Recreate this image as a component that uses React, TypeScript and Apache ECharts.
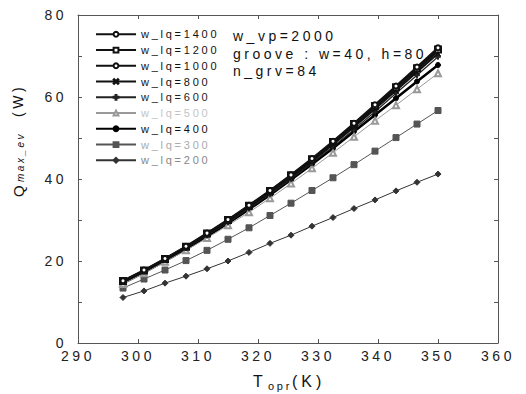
import React, { useEffect, useRef } from "react";
import * as echarts from "echarts";

const temperatures = [297.5, 301, 304.5, 308, 311.5, 315, 318.5, 322, 325.5, 329, 332.5, 336, 339.5, 343, 346.5, 350];
const q1400 = [15.2, 17.8, 20.6, 23.6, 26.8, 30.1, 33.6, 37.2, 41.0, 45.0, 49.2, 53.6, 58.1, 62.7, 67.3, 72.0];
const q1200 = [15.1, 17.7, 20.5, 23.5, 26.7, 30.0, 33.5, 37.1, 40.9, 44.8, 49.0, 53.4, 57.8, 62.4, 67.0, 71.6];
const q1000 = [15.0, 17.6, 20.4, 23.4, 26.6, 29.9, 33.3, 36.9, 40.7, 44.6, 48.8, 53.1, 57.5, 62.1, 66.6, 71.2];
const q800 = [14.9, 17.5, 20.3, 23.3, 26.4, 29.7, 33.1, 36.7, 40.4, 44.3, 48.4, 52.7, 57.1, 61.6, 66.1, 70.6];
const q600 = [14.8, 17.4, 20.2, 23.1, 26.2, 29.4, 32.8, 36.3, 40.0, 43.9, 47.9, 52.1, 56.4, 60.9, 65.3, 69.8];
const q500 = [14.4, 17.0, 19.8, 22.6, 25.6, 28.7, 31.9, 35.3, 38.9, 42.6, 46.4, 50.3, 54.2, 58.0, 61.9, 65.8];
const q400 = [14.6, 17.2, 20.0, 22.9, 26.0, 29.2, 32.6, 36.1, 39.8, 43.6, 47.5, 51.6, 55.6, 59.7, 63.8, 67.8];
const q300 = [13.4, 15.6, 17.8, 20.1, 22.6, 25.3, 28.1, 31.1, 34.1, 37.2, 40.3, 43.5, 46.8, 50.1, 53.4, 56.7];
const q200 = [11.1, 12.7, 14.6, 16.3, 18.1, 20.0, 22.1, 24.3, 26.3, 28.5, 30.6, 32.8, 34.9, 37.1, 39.2, 41.2];

const seriesNames = ["w_lq=1400", "w_lq=1200", "w_lq=1000", "w_lq=800", "w_lq=600", "w_lq=500", "w_lq=400", "w_lq=300", "w_lq=200"];
const seriesValues = [q1400, q1200, q1000, q800, q600, q500, q400, q300, q200];
const annotations = ["w_vp=2000", "groove : w=40, h=80", "n_grv=84"];

const PLUS = "path://M4,0h2v4h4v2h-4v4h-2v-4h-4v-2h4z";
const CROSS = "path://M0,1L1,0L5,4L9,0L10,1L6,5L10,9L9,10L5,6L1,10L0,9L4,5z";

const styles = [
  { symbol: "emptyCircle", size: 5, color: "#111", width: 2, text: "#111" },
  { symbol: "emptyRect", size: 6, color: "#111", width: 2, text: "#111" },
  { symbol: "emptyCircle", size: 4, color: "#111", width: 2, text: "#111" },
  { symbol: CROSS, size: 5, color: "#111", width: 2, text: "#111" },
  { symbol: PLUS, size: 5, color: "#222", width: 1.2, text: "#222" },
  { symbol: "emptyTriangle", size: 6, color: "#999", width: 1, text: "#c4c4c4" },
  { symbol: "circle", size: 5, color: "#000", width: 2.5, text: "#111" },
  { symbol: "rect", size: 6, color: "#555", width: 1, text: "#aaa" },
  { symbol: "diamond", size: 6, color: "#333", width: 1, text: "#888" },
];

const FONT = "Liberation Sans";

export default function App() {
  const ref = useRef<HTMLDivElement>(null);
  useEffect(() => {
    document.body.style.margin = "0";
    if (!ref.current) return;
    const chart = echarts.init(ref.current, null, { renderer: "svg" });
    const axisCommon = {
      type: "value" as const,
      axisLine: { show: true, onZero: false, lineStyle: { color: "#555", width: 1 } },
      axisTick: { show: true, inside: true, length: 4, lineStyle: { color: "#555" } },
      splitLine: { show: false },
    };
    const series = seriesNames.map((name, i) => {
      const s = styles[i];
      return {
        name,
        type: "line",
        data: temperatures.map((t, j) => [t, seriesValues[i][j]]),
        symbol: s.symbol,
        symbolSize: s.size,
        showSymbol: true,
        lineStyle: { color: s.color, width: s.width },
        itemStyle: { color: s.color, borderColor: s.color, borderWidth: 1 },
        z: 10 - i,
      };
    });
    const annotationTexts = annotations.map((t, i) => ({
      type: "text",
      left: 233,
      top: 29 + i * 17.5,
      style: { text: t, fontSize: 14, fontFamily: FONT, fill: "#111" },
    }));
    chart.setOption({
      animation: false,
      backgroundColor: "#fff",
      grid: { left: 78, right: 28, top: 15, bottom: 51 },
      legend: {
        orient: "vertical",
        left: 95,
        top: 28.8,
        padding: 0,
        itemWidth: 40,
        itemHeight: 6,
        itemGap: 4.75,
        textStyle: { fontSize: 11, fontFamily: FONT, lineHeight: 9 },
        data: seriesNames.map((n, i) => ({ name: n, textStyle: { color: styles[i].text } })),
      },
      xAxis: [
        {
          ...axisCommon,
          position: "bottom",
          min: 290,
          max: 360,
          interval: 10,
          axisLabel: { fontSize: 14, color: "#222", margin: 6, fontFamily: FONT },
        },
        {
          ...axisCommon,
          position: "top",
          min: 290,
          max: 360,
          interval: 10,
          axisLabel: { show: false },
        },
      ],
      yAxis: [
        {
          ...axisCommon,
          position: "left",
          min: 0,
          max: 80,
          interval: 10,
          axisLabel: {
            fontSize: 14,
            color: "#222",
            margin: 11,
            fontFamily: FONT,
            formatter: (v: number) => (v % 20 === 0 ? String(v) : ""),
          },
        },
        {
          ...axisCommon,
          position: "right",
          min: 0,
          max: 80,
          interval: 10,
          axisLabel: { show: false },
        },
      ],
      graphic: [
        ...annotationTexts,
        { type: "text", x: 253, y: 381, style: { text: "T", fontSize: 16, fontFamily: FONT, fill: "#111", verticalAlign: "middle" } },
        { type: "text", x: 268, y: 386, style: { text: "opr", fontSize: 11, fontFamily: FONT, fill: "#111", verticalAlign: "middle" } },
        { type: "text", x: 292, y: 381, style: { text: "(K)", fontSize: 16, fontFamily: FONT, fill: "#111", verticalAlign: "middle" } },
        {
          type: "group",
          x: 18,
          y: 197,
          rotation: Math.PI / 2,
          children: [
            { type: "text", x: 0, y: 0, style: { text: "Q", fontSize: 15, fontFamily: FONT, fill: "#111", verticalAlign: "middle" } },
            { type: "text", x: 15, y: 2, style: { text: "max_ev", fontSize: 10, fontStyle: "italic", fontFamily: FONT, fill: "#111", verticalAlign: "middle" } },
            { type: "text", x: 80, y: 0, style: { text: "(W)", fontSize: 14, fontFamily: FONT, fill: "#111", verticalAlign: "middle" } },
          ],
        },
      ],
      series,
    });
    return () => chart.dispose();
  }, []);
  return (
    <>
      <style>{"#root svg text { letter-spacing: 0.25em; }"}</style>
      <div ref={ref} style={{ width: 526, height: 394 }} />
    </>
  );
}
